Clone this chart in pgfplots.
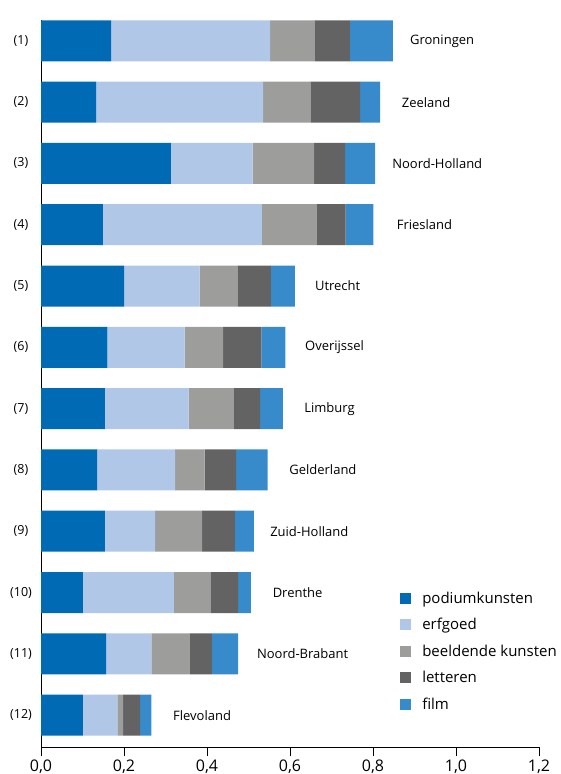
\documentclass[border=0pt]{standalone}
\usepackage{fontspec}
\setmainfont{Open Sans}
\usepackage{pgfplots}
\pgfplotsset{compat=1.18}

\definecolor{podium}{HTML}{006AB4}
\definecolor{erfgoed}{HTML}{B1C7E8}
\definecolor{beeldend}{HTML}{9D9D9C}
\definecolor{letteren}{HTML}{636363}
\definecolor{film}{HTML}{388BCB}

\tikzset{prov/.style={anchor=west, inner sep=0pt, font=\fontsize{13}{15}\selectfont}}

\begin{document}
\begin{tikzpicture}
% page = 561 x 774, axis box starts 41 from the left and 27 above the bottom
\useasboundingbox (-41pt,-27pt) rectangle (520pt,747pt);
\begin{axis}[
    at={(0pt,0pt)}, anchor=south west,
    scale only axis, width=498pt, height=727pt,
    xbar stacked, bar width=41pt,
    xmin=0, xmax=1.2, ymin=0.48, ymax=12.34,
    axis x line*=bottom, axis y line*=left,
    axis line style={line width=1pt},
    xtick={0,0.2,0.4,0.6,0.8,1.0,1.2},
    tick align=outside, major tick length=9pt,
    xtick style={black, line width=0.8pt},
    ytick={1,...,12},
    yticklabels={(12),(11),(10),(9),(8),(7),(6),(5),(4),(3),(2),(1)},
    ytick style={draw=none},
    yticklabel style={anchor=center, xshift=-11pt, font=\fontsize{12.5}{14}\selectfont},
    xticklabel style={font=\fontsize{16}{18}\selectfont},
    /pgf/number format/.cd, use comma, fixed, fixed zerofill, precision=1, assume math mode=true,
    /pgfplots/.cd,
    every axis plot/.append style={draw=none},
    legend style={draw=none, fill=none, at={(0.715,0.219)}, anchor=north west,
        font=\fontsize{15}{17}\selectfont, row sep=9.5pt,
        nodes={inner sep=2pt}},
    legend cell align=left,
    legend image code/.code={\fill[#1] (0pt,-5.5pt) rectangle (11pt,5.5pt); \path (20pt,0pt);},
]
% podiumkunsten
\addplot[fill=podium] coordinates {
 (0.169,12) (0.133,11) (0.313,10) (0.149,9) (0.200,8) (0.160,7)
 (0.154,6) (0.135,5) (0.154,4) (0.101,3) (0.157,2) (0.101,1)};
% erfgoed
\addplot[fill=erfgoed] coordinates {
 (0.383,12) (0.402,11) (0.197,10) (0.383,9) (0.182,8) (0.186,7)
 (0.202,6) (0.188,5) (0.121,4) (0.219,3) (0.109,2) (0.083,1)};
% beeldende kunsten
\addplot[fill=beeldend] coordinates {
 (0.108,12) (0.114,11) (0.148,10) (0.133,9) (0.091,8) (0.093,7)
 (0.109,6) (0.071,5) (0.113,4) (0.088,3) (0.093,2) (0.014,1)};
% letteren
\addplot[fill=letteren] coordinates {
 (0.084,12) (0.120,11) (0.075,10) (0.069,9) (0.081,8) (0.092,7)
 (0.063,6) (0.076,5) (0.079,4) (0.067,3) (0.053,2) (0.041,1)};
% film
\addplot[fill=film] coordinates {
 (0.104,12) (0.048,11) (0.072,10) (0.067,9) (0.058,8) (0.058,7)
 (0.055,6) (0.076,5) (0.046,4) (0.031,3) (0.063,2) (0.027,1)};
\legend{podiumkunsten, erfgoed, beeldende kunsten, letteren, film}

% province names, a little right of each bar
\node[prov] at (axis cs:0.889,12) {Groningen};
\node[prov] at (axis cs:0.869,11) {Zeeland};
\node[prov] at (axis cs:0.846,10) {Noord-Holland};
\node[prov] at (axis cs:0.857,9)  {Friesland};
\node[prov] at (axis cs:0.660,8)  {Utrecht};
\node[prov] at (axis cs:0.636,7)  {Overijssel};
\node[prov] at (axis cs:0.634,6)  {Limburg};
\node[prov] at (axis cs:0.598,5)  {Gelderland};
\node[prov] at (axis cs:0.552,4)  {Zuid-Holland};
\node[prov] at (axis cs:0.558,3)  {Drenthe};
\node[prov] at (axis cs:0.520,2)  {Noord-Brabant};
\node[prov] at (axis cs:0.318,1)  {Flevoland};
\end{axis}
\end{tikzpicture}
\end{document}
